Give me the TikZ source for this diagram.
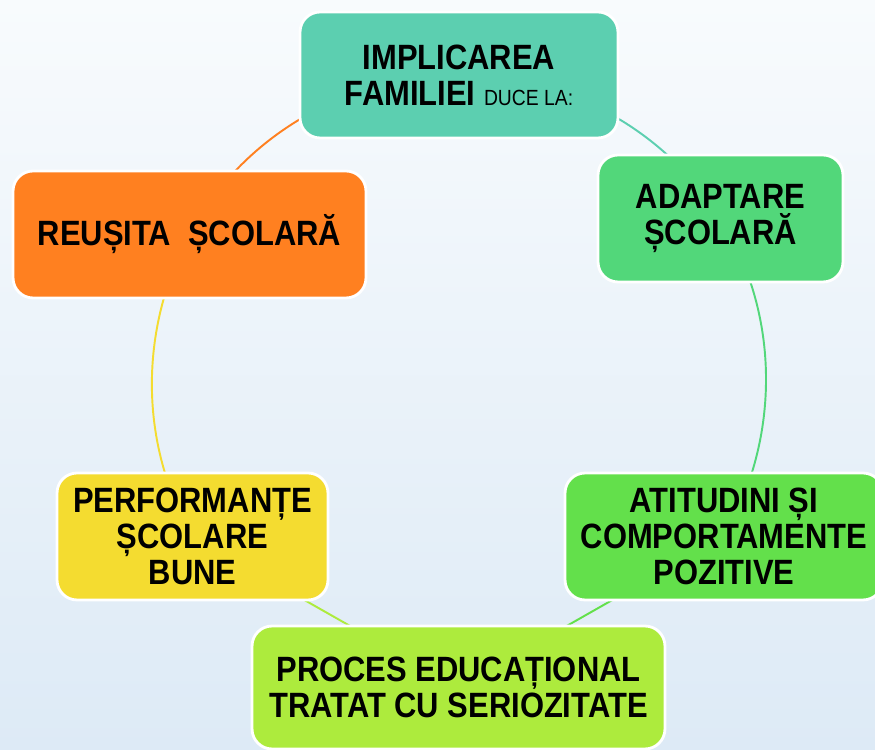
\documentclass[tikz,border=0pt]{standalone}
\usepackage{fontspec}
\setmainfont{Liberation Sans}[FakeStretch=0.88]
\usetikzlibrary{positioning,calc}
\usepackage{xcolor}
\definecolor{famcol}{HTML}{5CCFB0}
\definecolor{adaptcol}{HTML}{52D77A}
\definecolor{atitcol}{HTML}{63E04B}
\definecolor{proccol}{HTML}{ADEB3D}
\definecolor{perfcol}{HTML}{F4DC30}
\definecolor{reuscol}{HTML}{FF8020}
\definecolor{bgtop}{HTML}{F8FBFD}
\definecolor{bgbot}{HTML}{DDEAF6}
\pgfdeclarelayer{back}
\pgfsetlayers{back,main}

\begin{document}
\begin{tikzpicture}[x=0.02cm, y=0.02cm,
    box/.style={rectangle, rounded corners=0.4cm, draw=white, line width=1.6pt,
        align=center, inner sep=0pt, font=\fontsize{20}{20.5}\selectfont\bfseries},
    link/.style={line width=1.1pt, looseness=0.91}]
    \useasboundingbox (0,0) rectangle (875,750);
    \clip (0,0) rectangle (875,750);

    % Boxes
    \node[box, fill=famcol, minimum width=6.36cm, minimum height=2.52cm] (fam) at (459, 675)
        {IMPLICAREA\\FAMILIEI {\fontsize{12.5}{13}\selectfont\mdseries DUCE LA:}};
    \node[box, fill=adaptcol, minimum width=4.9cm, minimum height=2.54cm] (adapt) at (720.5, 531.5)
        {ADAPTARE\\ȘCOLARĂ};
    \node[box, fill=atitcol, minimum width=6.36cm, minimum height=2.54cm] (atit) at (724, 213.5)
        {ATITUDINI ȘI\\COMPORTAMENTE\\POZITIVE};
    \node[box, fill=proccol, minimum width=8.26cm, minimum height=2.46cm] (proc) at (458.5, 62.5)
        {PROCES EDUCAȚIONAL\\TRATAT CU SERIOZITATE};
    \node[box, fill=perfcol, minimum width=5.42cm, minimum height=2.54cm] (perf) at (192.5, 213.5)
        {PERFORMANȚE\\ȘCOLARE\\BUNE};
    \node[box, fill=reuscol, minimum width=7.06cm, minimum height=2.54cm] (reus) at (189.5, 515.5)
        {REUȘITA\ \ ȘCOLARĂ};

    % Cycle behind
    \begin{pgfonlayer}{back}
        \shade[top color=bgtop, bottom color=bgbot] (0,0) rectangle (875,750);
        \draw[link, famcol] (fam.center) to[out=0, in=122] (adapt.center);
        \draw[link, adaptcol] (adapt.center) to[out=-58, in=60] (atit.center);
        \draw[link, atitcol] (atit.center) -- (proc.center);
        \draw[link, proccol] (proc.center) -- (perf.center);
        \draw[link, perfcol] (perf.center) to[out=120, in=-118] (reus.center);
        \draw[link, reuscol] (reus.center) to[out=62, in=180] (fam.center);
    \end{pgfonlayer}
\end{tikzpicture}
\end{document}
